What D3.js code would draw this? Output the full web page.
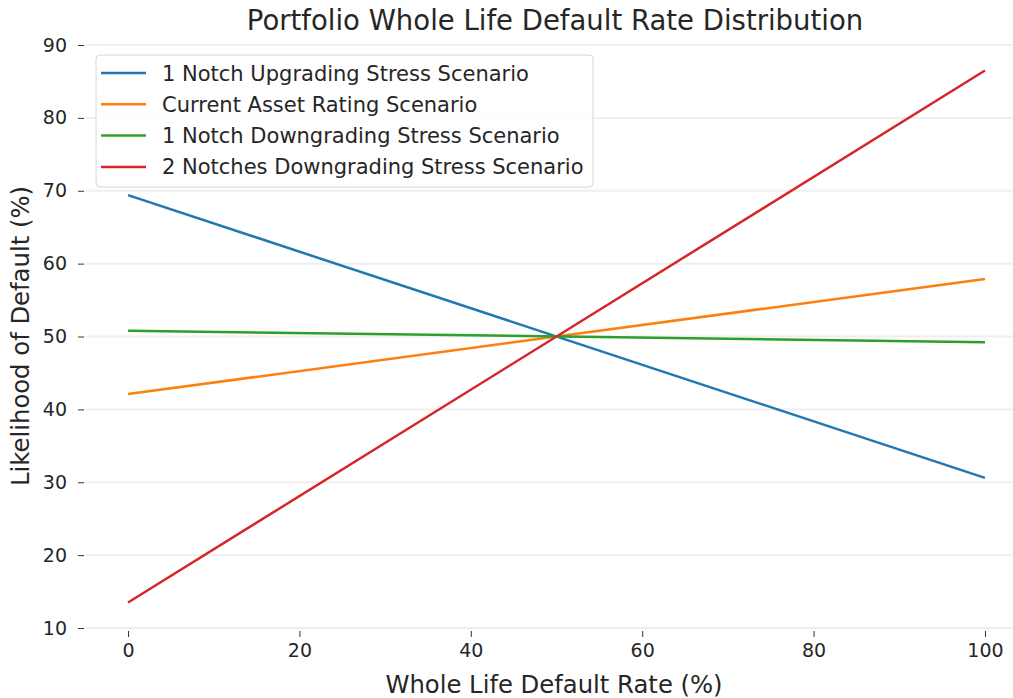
<!DOCTYPE html>
<html><head><meta charset="utf-8">
<script src="https://cdn.jsdelivr.net/npm/d3@7"></script>
<style>body{margin:0;background:#fff;} svg{display:block;font-family:"DejaVu Sans",sans-serif;}</style>
</head><body><svg id="c" width="1013" height="698"></svg>
<script>
const xValues = [0, 100];
const seriesNames = ["1 Notch Upgrading Stress Scenario","Current Asset Rating Scenario","1 Notch Downgrading Stress Scenario","2 Notches Downgrading Stress Scenario"];
const upgrade1 = [69.4, 30.6];
const current = [42.1, 57.9];
const downgrade1 = [50.8, 49.2];
const downgrade2 = [13.5, 86.5];
const colors = ["#1f77b4","#ff7f0e","#2ca02c","#d62728"];
const xTicks = [0,20,40,60,80,100];
const yTicks = [10,20,30,40,50,60,70,80,90];
const series = [upgrade1, current, downgrade1, downgrade2];

const svg = d3.select("#c");
const x = d3.scaleLinear().domain([-5,105]).range([85.2,1027.8]);
const y = d3.scaleLinear().domain([10,90]).range([628,45]);

const gGrid = svg.append("g");
gGrid.selectAll("line").data(yTicks).join("line")
  .attr("x1",85).attr("x2",1013).attr("y1",d=>y(d)).attr("y2",d=>y(d))
  .attr("stroke","#efefef").attr("stroke-width",2);

// axes
const xAxis = svg.append("g").attr("transform","translate(0,631)")
  .call(d3.axisBottom(x).tickValues(xTicks).tickSize(6).tickPadding(7).tickFormat(d3.format("d")));
xAxis.select(".domain").remove();
xAxis.selectAll("line").attr("stroke","#333").attr("stroke-width",1);
xAxis.selectAll("text").attr("font-size",19).attr("fill","#262626").attr("font-family","DejaVu Sans");

const yAxis = svg.append("g").attr("transform","translate(84,0)")
  .call(d3.axisLeft(y).tickValues(yTicks).tickSize(6).tickPadding(11).tickFormat(d3.format("d")));
yAxis.select(".domain").remove();
yAxis.selectAll("line").attr("stroke","#333").attr("stroke-width",1);
yAxis.selectAll("text").attr("font-size",19).attr("fill","#262626").attr("font-family","DejaVu Sans");

const line = d3.line().x((d,i)=>x(xValues[i])).y(d=>y(d));
svg.append("g").selectAll("path").data(series).join("path")
  .attr("d",d=>line(d)).attr("fill","none").attr("stroke",(d,i)=>colors[i]).attr("stroke-width",2.5);

// title & labels
svg.append("text").attr("x",555).attr("y",30).attr("text-anchor","middle")
  .attr("font-size",27.5).attr("fill","#262626").text("Portfolio Whole Life Default Rate Distribution");
svg.append("text").attr("x",554).attr("y",693).attr("text-anchor","middle")
  .attr("font-size",24.3).attr("fill","#262626").text("Whole Life Default Rate (%)");
svg.append("text").attr("transform","translate(29,336) rotate(-90)").attr("text-anchor","middle")
  .attr("font-size",24.3).attr("fill","#262626").text("Likelihood of Default (%)");

// legend
const lg = svg.append("g");
lg.append("rect").attr("x",96).attr("y",55).attr("width",497).attr("height",132).attr("rx",4)
  .attr("fill","#fff").attr("fill-opacity",0.8).attr("stroke","#d6d6d6");
seriesNames.forEach((n,i)=>{
  const yy = 73 + i*31.3;
  lg.append("line").attr("x1",101).attr("x2",146).attr("y1",yy).attr("y2",yy).attr("stroke",colors[i]).attr("stroke-width",2.5);
  lg.append("text").attr("x",162).attr("y",yy+7.5).attr("font-size",21).attr("fill","#262626").text(n);
});
</script></body></html>
